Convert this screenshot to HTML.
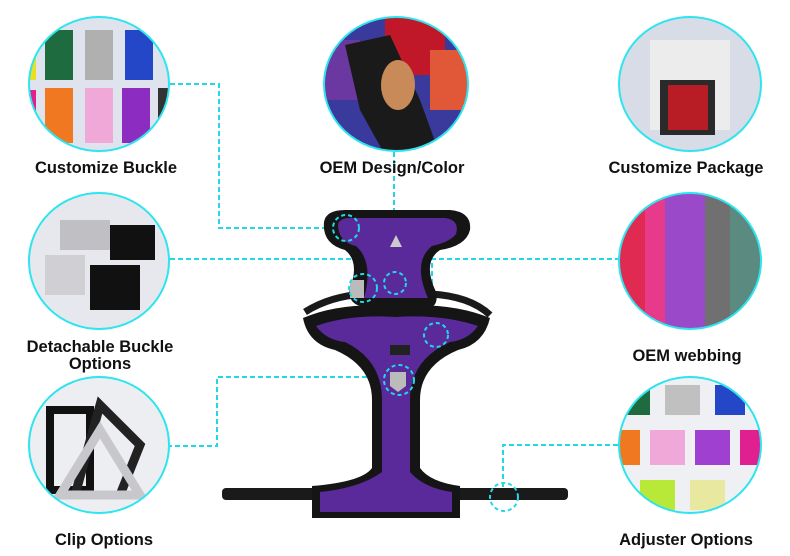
<!DOCTYPE html>
<html><head><style>
body{margin:0;background:#fff;width:790px;height:556px;overflow:hidden}
svg{display:block}
text{font-family:"Liberation Sans",Arial,sans-serif;font-weight:bold;font-size:16.5px;fill:#111;text-anchor:middle}
</style></head><body>
<svg width="790" height="556" viewBox="0 0 790 556">
<defs>
<clipPath id="c1"><ellipse cx="99" cy="84" rx="70" ry="67"/></clipPath>
<clipPath id="c2"><ellipse cx="396" cy="84" rx="72" ry="67"/></clipPath>
<clipPath id="c3"><ellipse cx="690" cy="84" rx="71" ry="67"/></clipPath>
<clipPath id="c4"><ellipse cx="99" cy="261" rx="70" ry="68"/></clipPath>
<clipPath id="c5"><ellipse cx="690" cy="261" rx="71" ry="68"/></clipPath>
<clipPath id="c6"><ellipse cx="99" cy="445" rx="70" ry="68"/></clipPath>
<clipPath id="c7"><ellipse cx="690" cy="445" rx="71" ry="68"/></clipPath>
</defs>
<g stroke="#22d8e8" stroke-width="2" stroke-dasharray="5,3" fill="none">
<polyline points="170,84 219,84 219,228 325,228"/>
<polyline points="394,152 394,270"/>
<polyline points="170,259 360,259 360,272"/>
<polyline points="620,259 432,259 432,318"/>
<polyline points="375,377 217,377 217,446 170,446"/>
<polyline points="503,487 503,445 620,445"/>
</g>
<g clip-path="url(#c1)"><rect x="25" y="15" width="150" height="140" fill="#dfe3ee"/>
<rect x="45" y="30" width="28" height="50" fill="#1e6b3f"/><rect x="85" y="30" width="28" height="50" fill="#b0b0b0"/><rect x="125" y="30" width="28" height="50" fill="#2447c8"/>
<rect x="45" y="88" width="28" height="55" fill="#f07820"/><rect x="85" y="88" width="28" height="55" fill="#f0a8d8"/><rect x="122" y="88" width="28" height="55" fill="#8c2cc0"/><rect x="28" y="40" width="8" height="40" fill="#e8e020"/><rect x="28" y="90" width="8" height="40" fill="#e02090"/><rect x="158" y="88" width="12" height="50" fill="#333"/></g>
<ellipse cx="99" cy="84" rx="70" ry="67" fill="none" stroke="#2ee4ee" stroke-width="2"/>
<g clip-path="url(#c2)"><rect x="320" y="15" width="150" height="140" fill="#3a3a9c"/>
<rect x="385" y="15" width="60" height="60" fill="#c01828"/><rect x="430" y="50" width="40" height="60" fill="#e05838"/><rect x="320" y="40" width="40" height="60" fill="#6a38a0"/>
<path d="M345 45 L390 35 L420 100 L440 155 L385 155 L360 110 Z" fill="#1a1a1a"/><ellipse cx="398" cy="85" rx="17" ry="25" fill="#c88a58"/></g>
<ellipse cx="396" cy="84" rx="72" ry="67" fill="none" stroke="#2ee4ee" stroke-width="2"/>
<g clip-path="url(#c3)"><rect x="615" y="15" width="150" height="140" fill="#d8dce6"/>
<rect x="650" y="40" width="80" height="90" fill="#ececec"/><rect x="660" y="80" width="55" height="55" fill="#2a2a2a"/><rect x="668" y="85" width="40" height="45" fill="#b81c24"/></g>
<ellipse cx="690" cy="84" rx="71" ry="67" fill="none" stroke="#2ee4ee" stroke-width="2"/>
<g clip-path="url(#c4)"><rect x="25" y="190" width="150" height="145" fill="#e6e8ee"/>
<rect x="60" y="220" width="50" height="30" fill="#c0c0c4"/><rect x="45" y="255" width="40" height="40" fill="#d0d0d4"/><rect x="110" y="225" width="45" height="35" fill="#111"/><rect x="90" y="265" width="50" height="45" fill="#111"/></g>
<ellipse cx="99" cy="261" rx="70" ry="68" fill="none" stroke="#2ee4ee" stroke-width="2"/>
<g clip-path="url(#c5)"><rect x="615" y="190" width="30" height="145" fill="#e02a52"/><rect x="645" y="190" width="20" height="145" fill="#e83a8a"/><rect x="665" y="190" width="40" height="145" fill="#9a4ac8"/><rect x="705" y="190" width="25" height="145" fill="#707070"/><rect x="730" y="190" width="35" height="145" fill="#5a8a80"/></g>
<ellipse cx="690" cy="261" rx="71" ry="68" fill="none" stroke="#2ee4ee" stroke-width="2"/>
<g clip-path="url(#c6)"><rect x="25" y="375" width="150" height="145" fill="#eceef2"/>
<path d="M50 410 h40 v80 h-40 z" fill="none" stroke="#111" stroke-width="8"/><path d="M100 405 l40 40 -20 50 -45 0 z" fill="none" stroke="#222" stroke-width="9"/><path d="M100 430 l40 65 h-80 z" fill="none" stroke="#c8c8cc" stroke-width="9"/></g>
<ellipse cx="99" cy="445" rx="70" ry="68" fill="none" stroke="#2ee4ee" stroke-width="2"/>
<g clip-path="url(#c7)"><rect x="615" y="375" width="150" height="145" fill="#eef0f4"/>
<rect x="620" y="385" width="30" height="30" fill="#1e6b3f"/><rect x="665" y="385" width="35" height="30" fill="#c0c0c0"/><rect x="715" y="385" width="30" height="30" fill="#2447c8"/>
<rect x="620" y="430" width="20" height="35" fill="#f07820"/><rect x="650" y="430" width="35" height="35" fill="#f0a8d8"/><rect x="695" y="430" width="35" height="35" fill="#a040d0"/><rect x="740" y="430" width="25" height="35" fill="#e02090"/>
<rect x="640" y="480" width="35" height="30" fill="#b8e838"/><rect x="690" y="480" width="35" height="30" fill="#e8e8a0"/></g>
<ellipse cx="690" cy="445" rx="71" ry="68" fill="none" stroke="#2ee4ee" stroke-width="2"/>
<text x="106" y="173">Customize Buckle</text>
<text x="392" y="173">OEM Design/Color</text>
<text x="686" y="173">Customize Package</text>
<text x="100" y="352">Detachable Buckle</text>
<text x="100" y="369">Options</text>
<text x="687" y="361">OEM webbing</text>
<text x="104" y="545">Clip Options</text>
<text x="686" y="545">Adjuster Options</text>
<!-- harness -->
<rect x="222" y="488" width="346" height="12" rx="4" fill="#1a1a1a"/>
<path d="M305 312 Q330 296 365 294 L380 300 L410 300 L430 294 Q470 296 490 315" fill="none" stroke="#1a1a1a" stroke-width="7"/>
<path d="M324 222 Q326 210 345 210 L450 210 Q472 212 470 230 Q466 246 440 250 Q422 262 436 292 Q440 310 420 310 L370 308 Q346 306 350 288 Q360 262 345 250 Q322 244 324 222 Z" fill="#151515"/>
<path d="M338 224 Q340 218 350 218 L445 218 Q460 220 456 234 Q450 242 432 246 Q412 262 428 298 L364 298 Q374 262 356 246 Q338 242 338 224 Z" fill="#5a2a9a"/>
<path d="M303 318 Q340 302 396 306 Q452 302 490 318 Q484 344 458 350 Q420 366 420 400 L420 468 Q430 482 460 486 L460 518 L312 518 L312 486 Q362 482 372 468 L372 400 Q372 366 335 350 Q308 344 303 318 Z" fill="#151515"/>
<path d="M316 326 Q350 314 396 317 Q442 314 478 326 Q468 340 450 342 Q410 360 410 400 L410 472 Q424 488 452 492 L452 512 L320 512 L320 492 Q360 488 382 472 L382 400 Q382 360 345 342 Q326 340 316 326 Z" fill="#5a2a9a"/>
<rect x="390" y="345" width="20" height="10" fill="#222"/>
<path d="M390 372 h16 v14 l-8 6 -8 -6z" fill="#bbb"/>
<path d="M390 247 l6 -12 6 12z" fill="#ccc"/>
<rect x="350" y="280" width="14" height="18" fill="#bbb"/>
<g stroke="#22d8e8" stroke-width="2" stroke-dasharray="4,3" fill="none">
<circle cx="346" cy="228" r="13"/><circle cx="363" cy="288" r="14"/><circle cx="395" cy="283" r="11"/><circle cx="399" cy="380" r="15"/><circle cx="436" cy="335" r="12"/><circle cx="504" cy="497" r="14"/>
</g>
</svg>
</body></html>
